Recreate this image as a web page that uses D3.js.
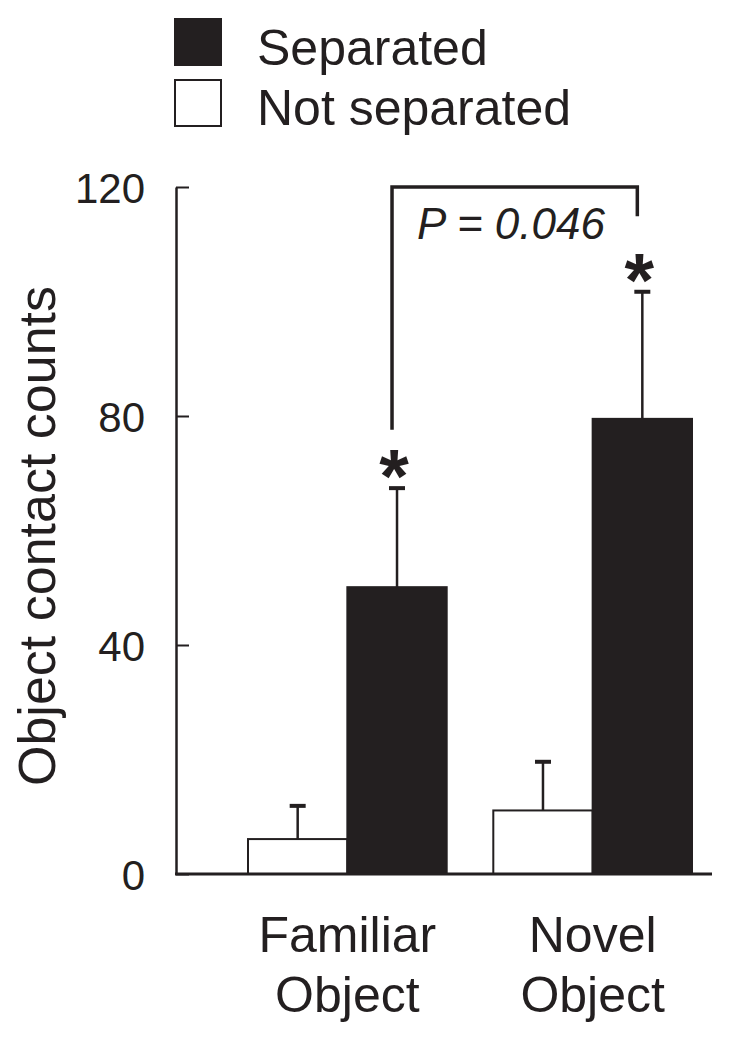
<!DOCTYPE html>
<html>
<head>
<meta charset="utf-8">
<script src="https://cdn.jsdelivr.net/npm/d3@7"></script>
<style>
  html, body { margin: 0; padding: 0; background: #fff; }
  svg { display: block; }
  text { font-family: "Liberation Sans", Arial, sans-serif; fill: #231f20; }
</style>
</head>
<body>
<svg id="chart" width="729" height="1041"></svg>
<script>
// ---- data ----
const categories = ["Familiar Object", "Novel Object"];
const categoryLines = [["Familiar", "Object"], ["Novel", "Object"]];
const series = ["Not separated", "Separated"];
const notSeparated = [6.1, 11.1];
const notSeparatedErr = [5.8, 8.5];
const separated = [50.1, 79.5];
const separatedErr = [17.3, 22.2];
const yTicks = [0, 40, 80, 120];
const yLabel = "Object contact counts";
const pText = "P = 0.046";
const bracketTop = 120;
const bracketLeftBottom = 77.6;
const bracketRightBottom = 114.9;

const ink = "#231f20";
const svg = d3.select("#chart");

const y = d3.scaleLinear().domain([0, 120]).range([874, 187]);
const x0 = d3.scaleBand().domain(categories).range([248, 692]).paddingInner(0.19).paddingOuter(0);
const x1 = d3.scaleBand().domain(series).range([0, x0.bandwidth()]);
const fill = d3.scaleOrdinal().domain(series).range(["#ffffff", ink]);

const rows = [];
categories.forEach((c, i) => {
  rows.push({cat: c, s: series[0], v: notSeparated[i], e: notSeparatedErr[i]});
  rows.push({cat: c, s: series[1], v: separated[i], e: separatedErr[i]});
});

// axis
const axisX = 176;
const yAxis = d3.axisLeft(y).tickValues(yTicks).tickSizeInner(-13).tickSizeOuter(0).tickPadding(31);
const ga = svg.append("g").attr("transform", `translate(${axisX},0)`).call(yAxis);
ga.select(".domain").attr("stroke", ink).attr("stroke-width", 2.5);
ga.selectAll(".tick line").attr("stroke", ink).attr("stroke-width", 2);
ga.selectAll(".tick text").attr("font-size", 42).attr("font-family", "Liberation Sans, Arial, sans-serif").attr("fill", ink).attr("dy", "0.36em");

// bars
const gBars = svg.append("g");
gBars.selectAll("rect").data(rows).join("rect")
  .attr("x", d => x0(d.cat) + x1(d.s))
  .attr("y", d => y(d.v))
  .attr("width", x1.bandwidth())
  .attr("height", d => y(0) - y(d.v))
  .attr("fill", d => fill(d.s))
  .attr("stroke", ink)
  .attr("stroke-width", 2);

// error bars (upper only)
const gErr = svg.append("g");
rows.forEach(d => {
  const cx = x0(d.cat) + x1(d.s) + x1.bandwidth() / 2;
  gErr.append("line").attr("x1", cx).attr("x2", cx).attr("y1", y(d.v)).attr("y2", y(d.v + d.e))
    .attr("stroke", ink).attr("stroke-width", 2.5);
  gErr.append("line").attr("x1", cx - 8).attr("x2", cx + 8).attr("y1", y(d.v + d.e)).attr("y2", y(d.v + d.e))
    .attr("stroke", ink).attr("stroke-width", 4);
});

// baseline
svg.append("line").attr("x1", axisX - 1).attr("x2", 712).attr("y1", y(0)).attr("y2", y(0))
  .attr("stroke", ink).attr("stroke-width", 3);

// asterisks
rows.filter(d => d.s === "Separated").forEach(d => {
  const cx = x0(d.cat) + x1(d.s) + x1.bandwidth() / 2;
  svg.append("text").attr("x", cx - 3).attr("y", y(d.v + d.e) + 14)
    .attr("text-anchor", "middle").attr("font-size", 76).attr("font-weight", "bold").text("*");
});

// bracket
const lx = x0(categories[0]) + x1("Separated") + x1.bandwidth() / 2 - 5;
const rx = x0(categories[1]) + x1("Separated") + x1.bandwidth() / 2 - 5;
svg.append("path")
  .attr("d", `M${lx},${y(bracketLeftBottom)} V${y(bracketTop)} H${rx} V${y(bracketRightBottom)}`)
  .attr("fill", "none").attr("stroke", ink).attr("stroke-width", 3.5);
svg.append("text").attr("x", 417).attr("y", 239).attr("font-size", 44).attr("font-style", "italic").text(pText);

// x labels
categories.forEach((c, i) => {
  const cx = x0(c) + x0.bandwidth() / 2;
  const t = svg.append("text").attr("text-anchor", "middle").attr("font-size", 50);
  categoryLines[i].forEach((ln, j) => {
    t.append("tspan").attr("x", cx).attr("y", 952 + j * 60).text(ln);
  });
});

// y label
svg.append("text").attr("transform", "translate(55,536) rotate(-90)")
  .attr("text-anchor", "middle").attr("font-size", 52).text(yLabel);

// legend
const legendSeries = ["Separated", "Not separated"];
legendSeries.forEach((s, i) => {
  svg.append("rect").attr("x", 175).attr("y", 19 + i * 61).attr("width", 46).attr("height", 46)
    .attr("fill", fill(s)).attr("stroke", ink).attr("stroke-width", 2);
  svg.append("text").attr("x", 257).attr("y", 65 + i * 60).attr("font-size", 50).text(s);
});
</script>
</body>
</html>
